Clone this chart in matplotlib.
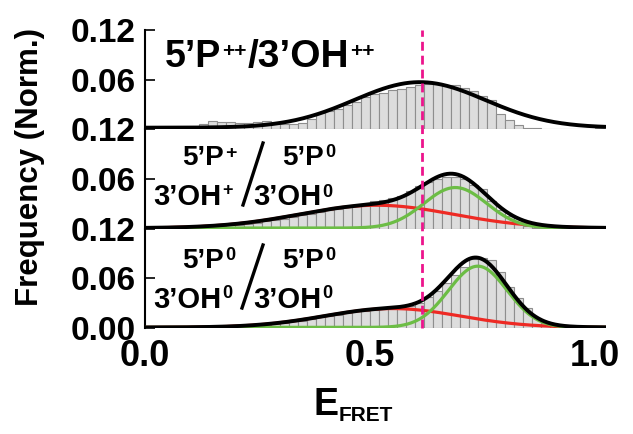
import numpy as np
import matplotlib
matplotlib.use("Agg")
import matplotlib.pyplot as plt
import matplotlib.transforms as mtransforms
from matplotlib.lines import Line2D

plt.rcParams["font.family"] = ["Liberation Sans", "DejaVu Sans"]
plt.rcParams["font.weight"] = "bold"

# ==============================
# Data
# ==============================

bin_width = 0.02
bin_left = np.round(np.arange(51) * bin_width, 2)   # 0.00 ... 1.00

hist_top = [0.001, 0.001, 0.001, 0.002, 0.002, 0.003, 0.006, 0.010, 0.009, 0.009,
            0.008, 0.008, 0.009, 0.010, 0.007, 0.006, 0.006, 0.008, 0.012, 0.020,
            0.022, 0.025, 0.029, 0.033, 0.039, 0.043, 0.044, 0.047, 0.049, 0.051,
            0.053, 0.055, 0.055, 0.054, 0.053, 0.050, 0.046, 0.040, 0.035, 0.018,
            0.011, 0.005, 0.002, 0.002, 0.0005, 0.0005, 0.0005, 0.0005, 0.0005, 0.0005,
            0.002]

hist_mid = [0.0005, 0.0005, 0.001, 0.001, 0.001, 0.0015, 0.002, 0.0025, 0.003, 0.004,
            0.005, 0.006, 0.007, 0.009, 0.011, 0.012, 0.014, 0.016, 0.018, 0.020,
            0.022, 0.024, 0.026, 0.028, 0.030, 0.033, 0.035, 0.037, 0.040, 0.045,
            0.051, 0.056, 0.060, 0.063, 0.062, 0.060, 0.053, 0.048, 0.033, 0.023,
            0.015, 0.007, 0.003, 0.001, 0.0005, 0.0005, 0.0005, 0.0005, 0.0005, 0.0005,
            0.0005]

hist_bot = [0.0005, 0.0005, 0.0005, 0.0005, 0.001, 0.001, 0.001, 0.0015, 0.0015, 0.002,
            0.002, 0.0025, 0.003, 0.004, 0.005, 0.006, 0.008, 0.009, 0.011, 0.013,
            0.015, 0.016, 0.018, 0.020, 0.021, 0.022, 0.023, 0.024, 0.025, 0.027,
            0.030, 0.038, 0.045, 0.054, 0.064, 0.074, 0.083, 0.084, 0.082, 0.068,
            0.050, 0.036, 0.024, 0.012, 0.006, 0.003, 0.001, 0.0005, 0.0005, 0.0005,
            0.0005]

# gaussian fit parameters: (amplitude, centre, sigma)
fit_top = (0.0550, 0.611, 0.146)
fit_mid_red = (0.0276, 0.515, 0.170)
fit_mid_green = (0.049, 0.690, 0.070)
fit_bot_red = (0.0228, 0.550, 0.150)
fit_bot_green = (0.074, 0.740, 0.065)

e_cut = 0.617

# ==============================
# Layout helpers
# ==============================

W, H = 633, 434
fig = plt.figure(figsize=(W / 100, H / 100), dpi=100)
renderer = fig.canvas.get_renderer()

x_left, x_right = 145, 606
y_top, y_bottom = 30, 328
panel_h = (y_bottom - y_top) / 3


def fx(x):
    return x / W


def fy(y):
    return 1 - y / H


def gauss(x, p):
    a, mu, s = p
    return a * np.exp(-(x - mu) ** 2 / (2 * s ** 2))


xs = np.linspace(0, 1.025, 500)

panels = [
    (hist_top, [fit_top], 0.002),
    (hist_mid, [fit_mid_red, fit_mid_green], 0.0007),
    (hist_bot, [fit_bot_red, fit_bot_green], 0.0007),
]

axes = []
for k, (hist, fits, offset) in enumerate(panels):
    top = y_top + k * panel_h
    ax = fig.add_axes([fx(x_left), fy(top + panel_h), fx(x_right - x_left), panel_h / H])
    ax.patch.set_visible(False)

    ax.bar(bin_left, hist, width=bin_width, align="edge",
           color="#dddddd", edgecolor="#8e8e8e", linewidth=0.8, zorder=1)

    total = np.zeros_like(xs) + offset
    if len(fits) == 2:
        red = gauss(xs, fits[0])
        green = gauss(xs, fits[1])
        ax.plot(xs, red + offset, color="#ee2a24", lw=2.3, zorder=3)
        ax.plot(xs, green + offset, color="#6cbd45", lw=2.3, zorder=4)
        total = total + red + green
    else:
        total = total + gauss(xs, fits[0])
    ax.plot(xs, total, color="black", lw=2.8, zorder=5)

    ax.set_xlim(0, 1.025)
    ax.set_ylim(0, 0.12)
    for s in ["top", "right", "bottom"]:
        ax.spines[s].set_visible(False)
    ax.spines["left"].set_linewidth(1.5)

    if k == 2:
        ax.set_yticks([0, 0.06, 0.12])
        ax.set_yticklabels(["0.00", "0.06", "0.12"])
        ax.set_xticks([0, 0.5, 1.0])
        ax.set_xticklabels(["0.0", "0.5", "1.0"])
        ax.tick_params(axis="x", length=0, labelsize=26, pad=8)
    else:
        ax.set_yticks([0.06, 0.12])
        ax.set_yticklabels(["0.06", "0.12"])
        ax.set_xticks([])
    ax.tick_params(axis="y", direction="in", length=7, width=1.2, labelsize=24, pad=7)
    axes.append(ax)

# dashed reference line across all panels
trans = mtransforms.blended_transform_factory(axes[2].transData, fig.transFigure)
fig.add_artist(Line2D([e_cut, e_cut], [fy(y_bottom), fy(y_top)], transform=trans,
                      color="#ec148c", lw=2, dashes=(3.2, 1.8), zorder=10))

# ==============================
# Panel labels
# ==============================


def put(s, x, y, size):
    t = fig.text(fx(x), fy(y), s, fontsize=size, ha="left", va="baseline", fontweight="bold")
    return t.get_window_extent(renderer).x1


def put_sup(base, sup, x, y, size, sup_size, rise):
    # main text, then superscript right after it
    end = put(base, x, y, size)
    return put(sup, end + 1, y - rise, sup_size)


def slash(x0, y0, x1, y1):
    fig.add_artist(Line2D([fx(x0), fx(x1)], [fy(y0), fy(y1)], transform=fig.transFigure,
                          color="black", lw=2.4))


# top panel
end = put_sup("5\u2019P", "++", 165, 67, 27, 15, 10)
put_sup("/3\u2019OH", "++", end + 1, 67, 28, 15, 10)

# middle panel
put_sup("5\u2019P", "+", 182, 165, 20, 14, 7)
put_sup("5\u2019P", "0", 282, 165, 20, 13, 8)
put_sup("3\u2019OH", "+", 153, 205, 21, 13, 10)
put_sup("3\u2019OH", "0", 253, 205, 21, 13, 8)
slash(263, 143, 243, 205)

# bottom panel
put_sup("5\u2019P", "0", 182, 268, 20, 13, 8)
put_sup("5\u2019P", "0", 282, 268, 20, 13, 8)
put_sup("3\u2019OH", "0", 153, 308, 21, 13, 10)
put_sup("3\u2019OH", "0", 253, 308, 21, 13, 10)
slash(263, 245, 242, 308)

# ==============================
# Axis labels
# ==============================

fig.text(fx(30), fy(167), "Frequency (Norm.)", rotation=90, fontsize=22.5,
         ha="center", va="center", fontweight="bold")
end = put("E", 313, 415, 27)
put("FRET", end + 1, 421, 15)

plt.savefig("out.png", dpi=100)
